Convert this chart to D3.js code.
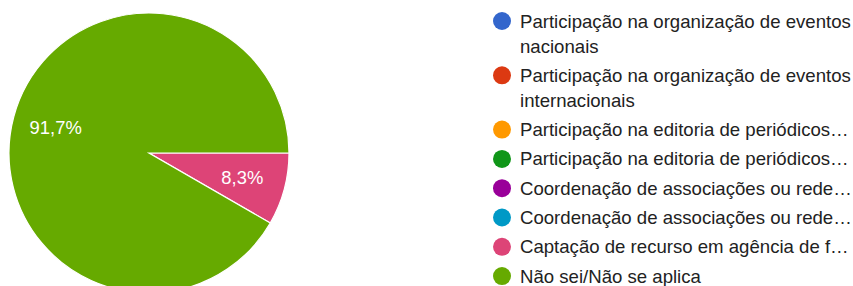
<!DOCTYPE html>
<html>
<head>
<meta charset="utf-8">
<script src="https://cdn.jsdelivr.net/npm/d3@7"></script>
<style>
  body { margin: 0; background: #fff; }
  text { font-family: "Liberation Sans", Arial, sans-serif; }
</style>
</head>
<body>
<div id="chart"></div>
<script>
var categories = [
  ["Participação na organização de eventos", "nacionais"],
  ["Participação na organização de eventos", "internacionais"],
  ["Participação na editoria de periódicos…"],
  ["Participação na editoria de periódicos…"],
  ["Coordenação de associações ou rede…"],
  ["Coordenação de associações ou rede…"],
  ["Captação de recurso em agência de f…"],
  ["Não sei/Não se aplica"]
];
var counts = [0, 0, 0, 0, 0, 0, 1, 11];
var colors = ["#3366cc", "#dc3912", "#ff9900", "#109618", "#990099", "#0099c6", "#dd4477", "#66aa00"];

var width = 853, height = 286;
var cx = 149, cy = 153, radius = 140;

var svg = d3.select("#chart")
  .append("svg")
    .attr("width", width)
    .attr("height", height);

var total = d3.sum(counts);

var pie = d3.pie()
  .sort(null)
  .value(function(d) { return d; })
  .startAngle(Math.PI / 2)
  .endAngle(Math.PI / 2 + 2 * Math.PI);

var arc = d3.arc().innerRadius(0).outerRadius(radius);
var labelArc = d3.arc().innerRadius(radius * 0.69).outerRadius(radius * 0.69);

var g = svg.append("g")
  .attr("transform", "translate(" + cx + "," + cy + ")");

var slices = pie(counts).filter(function(d) { return d.value > 0; });

g.selectAll("path")
  .data(slices)
  .enter().append("path")
    .attr("d", arc)
    .attr("fill", function(d) { return colors[d.index]; })
    .attr("stroke", "#fff")
    .attr("stroke-width", 1.2);

g.selectAll("text.pct")
  .data(slices)
  .enter().append("text")
    .attr("class", "pct")
    .attr("transform", function(d) { return "translate(" + labelArc.centroid(d) + ")"; })
    .attr("text-anchor", "middle")
    .attr("dy", "0.35em")
    .attr("fill", "#fff")
    .attr("font-size", 18.4)
    .text(function(d) { return (d.value / total * 100).toFixed(1).replace(".", ",") + "%"; });

// legend
var legend = svg.append("g");
var y = 21;
categories.forEach(function(lines, i) {
  legend.append("circle")
    .attr("cx", 502)
    .attr("cy", y)
    .attr("r", 9)
    .attr("fill", colors[i]);
  lines.forEach(function(line, j) {
    legend.append("text")
      .attr("x", 520)
      .attr("y", y + j * 25)
      .attr("dy", "0.35em")
      .attr("font-size", 18.6)
      .attr("fill", "#222")
      .text(line);
  });
  y += (lines.length - 1) * 25 + 29.3;
});
</script>
</body>
</html>
